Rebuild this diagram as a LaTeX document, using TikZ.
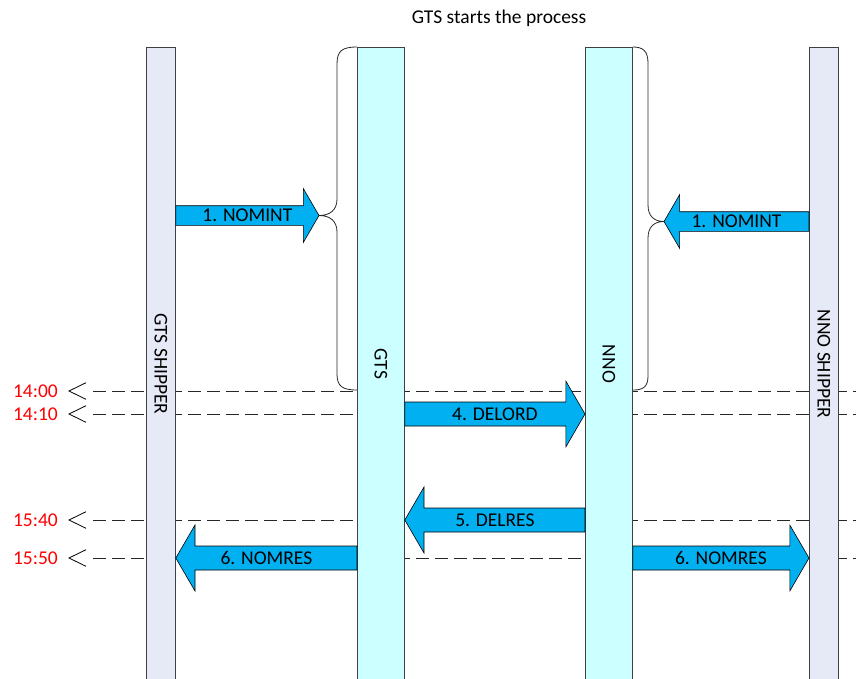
\documentclass[tikz,border=0pt]{standalone}
\usepackage{fontspec}
\setmainfont{Carlito}
\usetikzlibrary{calc}
\definecolor{shipfill}{HTML}{E6EAF6}
\definecolor{partyfill}{HTML}{CCFFFF}
\definecolor{msgblue}{HTML}{00B0F0}
\definecolor{timered}{HTML}{FF0000}

% fat message arrow: [shaft half width]{from}{to}{label}
\newcommand\msgarrow[4][12]{%
  \path[msgshape] let \p1=(#2), \p2=(#3), \n1={2*(\x2>\x1)-1}, \n2={#1}, \n3={2.75*#1}, \n4={1.6*#1} in
    (\x1,\y1+\n2) -- ({\x2-\n1*\n4},\y1+\n2) -- ({\x2-\n1*\n4},\y1+\n3) -- (\x2,\y1)
    -- ({\x2-\n1*\n4},\y1-\n3) -- ({\x2-\n1*\n4},\y1-\n2) -- (\x1,\y1-\n2) -- cycle
    ({(\x1+\x2)/2},\y1) node[msglabel] {#4};
}

\begin{document}
\begin{tikzpicture}[x=1pt, y=-1pt, font=\fontsize{19.5pt}{23pt}\selectfont,
    bar/.style={draw=black!75, line width=0.8pt, minimum height=633pt, anchor=north west, inner sep=0pt},
    shipper/.style={bar, fill=shipfill, minimum width=29pt},
    party/.style={bar, fill=partyfill, minimum width=47pt},
    barlabel/.style={rotate=-90, inner sep=0pt},
    msgshape/.style={draw=black, fill=msgblue, line width=0.6pt, line join=miter},
    msglabel/.style={inner sep=0pt},
    timelabel/.style={text=timered, anchor=east, inner sep=0pt},
    timeline/.style={draw=black!85, line width=0.8pt, dash pattern=on 12.7pt off 6.3pt},
    brace/.style={draw=black!85, line width=0.8pt}]
  \useasboundingbox (0,0) rectangle (856,678);

  \node (title) at (499,18) {GTS starts the process};

  % time marks
  \foreach \t/\n/\y in {14:00/1400/391, 14:10/1410/414, 15:40/1540/520, 15:50/1550/558} {
    \node[timelabel] (t\n) at (58,\y) {\t};
    \coordinate (tip\n) at (69,\y);
    \draw[timeline] ([xshift=24pt]tip\n) -- (856,\y);
    \draw[line width=0.8pt] ([shift={(17pt,8.3pt)}]tip\n) -- (tip\n) -- ([shift={(17pt,-8.3pt)}]tip\n);
  }

  % lifelines
  \node[shipper] (gtsshipper) at (146,47) {};
  \node[party] (gts) at (357,47) {};
  \node[party] (nno) at (585,47) {};
  \node[shipper] (nnoshipper) at (809,47) {};
  \node[barlabel] at (gtsshipper) {GTS SHIPPER};
  \node[barlabel] at (gts) {GTS};
  \node[barlabel] at (nno) {NNO};
  \node[barlabel] at (nnoshipper) {NNO SHIPPER};

  % braces
  \coordinate (gtsbrace) at (319,215.5);
  \coordinate (nnobrace) at (664,221.5);
  \draw[brace] (gts.north west) .. controls (342,47) and (337,51) .. (337,64) -- (337,199)
    .. controls (337,210) and (330,215.5) .. (gtsbrace) .. controls (330,215.5) and (337,221) .. (337,232)
    -- (337,374) .. controls (337,386) and (342,390) .. (357,390);
  \draw[brace] (nno.north east) .. controls (643,47) and (648,51) .. (648,63) -- (648,205)
    .. controls (648,216) and (654,221.5) .. (nnobrace) .. controls (654,221.5) and (648,227) .. (648,238)
    -- (648,376) .. controls (648,387) and (643,390) .. (633,390);

  % messages
  \msgarrow[9.8]{gtsshipper.east |- gtsbrace}{gtsbrace}{1. NOMINT}
  \msgarrow[9.8]{nnoshipper.west |- nnobrace}{nnobrace}{1. NOMINT}
  \msgarrow{gts.east |- t1410}{nno.west |- t1410}{4. DELORD}
  \msgarrow{nno.west |- t1540}{gts.east |- t1540}{5. DELRES}
  \msgarrow{gts.west |- t1550}{gtsshipper.east |- t1550}{6. NOMRES}
  \msgarrow{nno.east |- t1550}{nnoshipper.west |- t1550}{6. NOMRES}
\end{tikzpicture}
\end{document}
